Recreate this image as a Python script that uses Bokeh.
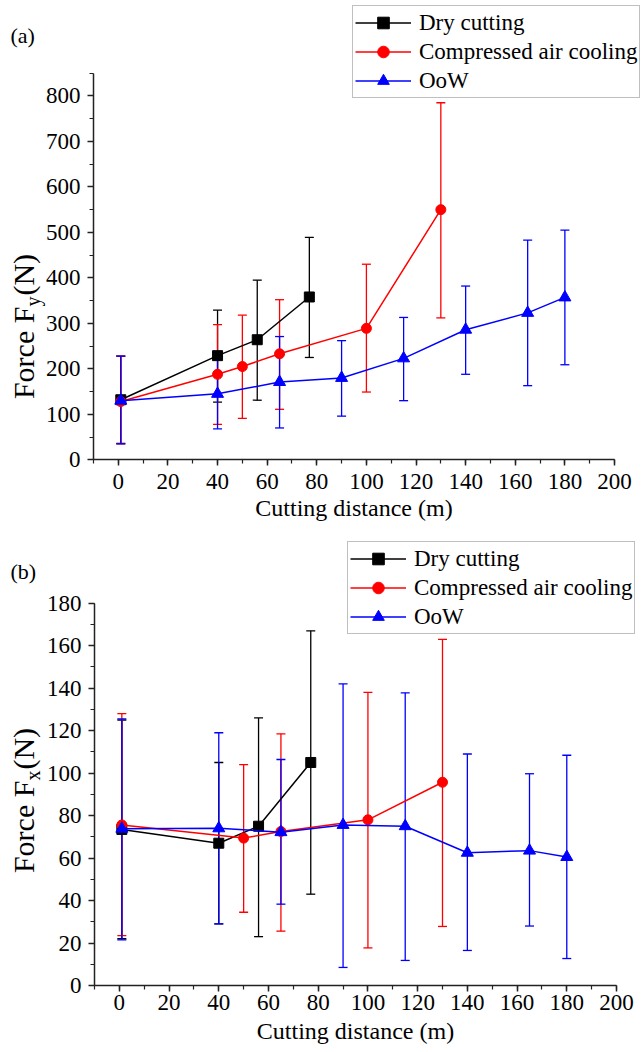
import math
from bokeh.plotting import figure
from bokeh.models import Range1d, FixedTicker, Legend, LegendItem, Label, LinearAxis
from bokeh.layouts import column
from bokeh.embed import file_html
from bokeh.resources import INLINE

# ---------------- data: panel (a) force Fy ----------------
a_dry_x = [1, 40, 56, 77]
a_dry_y = [132, 229, 264, 358]
a_dry_up = [228, 329, 395, 489]
a_dry_lo = [36, 127, 131, 225]

a_air_x = [1, 40, 50, 65, 100, 130]
a_air_y = [128, 188, 205, 233, 289, 550]
a_air_up = [228, 297, 318, 352, 430, 785]
a_air_lo = [35, 78, 91, 111, 149, 312]

a_oow_x = [1, 40, 65, 90, 115, 140, 165, 180]
a_oow_y = [130, 145, 171, 180, 223, 286, 323, 357]
a_oow_up = [228, 225, 271, 262, 313, 382, 483, 505]
a_oow_lo = [35, 68, 70, 96, 130, 188, 163, 209]

# ---------------- data: panel (b) force Fx ----------------
b_dry_x = [1, 40, 56, 77]
b_dry_y = [73.5, 67, 75, 105]
b_dry_up = [125, 105, 126, 167]
b_dry_lo = [22, 29, 23, 43]

b_air_x = [1, 50, 65, 100, 130]
b_air_y = [75.6, 69.4, 72.5, 78, 95.7]
b_air_up = [128, 104, 118.5, 138, 163]
b_air_lo = [23.5, 34.5, 25.6, 17.7, 27.8]

b_oow_x = [1, 40, 65, 90, 115, 140, 165, 180]
b_oow_y = [73.8, 74, 72.2, 75.6, 75, 62.5, 63.5, 60.5]
b_oow_up = [125.5, 119, 106.4, 142, 137.8, 109, 99.7, 108.4]
b_oow_lo = [21.5, 29, 38.3, 8.5, 11.8, 16.5, 28, 12.7]

series_names = ["Dry cutting", "Compressed air cooling", "OoW"]
series_colors = ["#000000", "#FF0000", "#0000FF"]
series_markers = ["square", "circle", "triangle"]
series_sizes = [10, 10, 12]

x_ticks = list(range(0, 201, 20))
x_minor = list(range(-10, 201, 10))
a_y_ticks = list(range(0, 801, 100))
a_y_minor = list(range(0, 851, 50))
b_y_ticks = list(range(0, 181, 20))
b_y_minor = list(range(0, 181, 10))

SERIF = "Liberation Serif"
W = 641
X0, X1 = -10, 200


def style_axis(ax):
    ax.axis_line_color = "#222222"
    ax.axis_line_width = 1.5
    ax.major_tick_line_color = "#222222"
    ax.minor_tick_line_color = "#222222"
    ax.major_tick_line_width = 1.5
    ax.minor_tick_line_width = 1.2
    ax.major_tick_in = 0
    ax.major_tick_out = 6
    ax.minor_tick_in = 0
    ax.minor_tick_out = 4
    ax.major_label_text_font = SERIF
    ax.major_label_text_font_size = "23px"
    ax.major_label_text_color = "black"


def make_panel(height, ax_left, ax_right, ax_top, ax_bottom, ymax, yticks, yminor,
               data, tag, tag_y, sub, legend_lt, ylab_center, ylab_font,
               tick_standoff, xlab_gap):
    # the frame fills the whole canvas; the drawn axes span the given pixels
    xpp = (X1 - X0) / (ax_right - ax_left)
    ypp = ymax / (ax_bottom - ax_top)
    x_start = X0 - ax_left * xpp
    x_end = X1 + (W - ax_right) * xpp
    y_start = -(height - ax_bottom) * ypp
    y_end = ax_bottom * ypp

    def xd(px):
        return x_start + px * xpp

    def yd(py):
        return (ax_bottom - py) * ypp

    p = figure(width=W, height=height, x_range=Range1d(x_start, x_end),
               y_range=Range1d(y_start, y_end), output_backend="svg",
               toolbar_location=None, title=None,
               x_axis_location=None, y_axis_location=None,
               min_border_left=0, min_border_right=0, min_border_top=0,
               min_border_bottom=0)
    p.outline_line_color = None
    p.xgrid.visible = False
    p.ygrid.visible = False
    p.background_fill_color = "white"
    p.border_fill_color = "white"

    xax = LinearAxis(fixed_location=0, bounds=(X0, X1),
                     ticker=FixedTicker(ticks=x_ticks, minor_ticks=x_minor))
    style_axis(xax)
    xax.major_label_standoff = tick_standoff
    p.add_layout(xax, "below")

    yax = LinearAxis(fixed_location=X0, bounds=(0, ymax),
                     ticker=FixedTicker(ticks=yticks, minor_ticks=yminor))
    style_axis(yax)
    yax.major_label_standoff = 7
    p.add_layout(yax, "left")

    # error bars first
    for (xs, ys, up, lo), col in zip(data, series_colors):
        p.segment(x0=xs, y0=lo, x1=xs, y1=up, line_color=col, line_width=1.3)
        p.scatter(x=xs, y=up, marker="dash", size=9, line_color=col, line_width=1.3)
        p.scatter(x=xs, y=lo, marker="dash", size=9, line_color=col, line_width=1.3)

    items = []
    for (xs, ys, up, lo), name, col, mk, sz in zip(data, series_names, series_colors,
                                                   series_markers, series_sizes):
        ln = p.line(x=xs, y=ys, line_color=col, line_width=1.5)
        sc = p.scatter(x=xs, y=ys, marker=mk, size=sz, fill_color=col, line_color=col)
        items.append(LegendItem(label=name, renderers=[ln, sc]))

    row_h = 29
    pad = 2
    leg_h = 3 * row_h + 2 * pad
    leg = Legend(items=items,
                 location=(legend_lt[0], height - legend_lt[1] - leg_h))
    leg.label_text_font = SERIF
    leg.label_text_font_size = "23px"
    leg.label_text_color = "black"
    leg.glyph_width = 56
    leg.glyph_height = row_h
    leg.label_height = row_h
    leg.spacing = 0
    leg.padding = pad
    leg.margin = 0
    leg.label_standoff = 8
    leg.border_line_color = "#808080"
    leg.border_line_width = 1
    leg.background_fill_color = "white"
    leg.background_fill_alpha = 1
    p.add_layout(leg)

    # panel tag
    p.add_layout(Label(x=xd(10), y=yd(tag_y), text=tag, text_font=SERIF,
                       text_font_size="22px", text_align="left",
                       text_baseline="middle", text_color="black"))
    # x axis title
    p.add_layout(Label(x=xd((ax_left + ax_right) / 2), y=yd(ax_bottom + xlab_gap),
                       text="Cutting distance (m)", text_font=SERIF,
                       text_font_size="24px", text_align="center",
                       text_baseline="middle", text_color="black"))
    # y axis title, rotated, with subscript
    f = ylab_font
    fsub = round(f * 0.68)
    total = (3.083 + 1.388) * f + 0.5 * fsub + 1
    start = ylab_center + total / 2          # lower end (pixels)
    xc_px = 23
    p.add_layout(Label(x=xd(xc_px), y=yd(start), text="Force F", angle=math.pi / 2,
                       text_font=SERIF, text_font_size=f"{f}px", text_align="left",
                       text_baseline="middle", text_color="black"))
    s2 = start - 3.083 * f
    p.add_layout(Label(x=xd(xc_px + 0.3 * f), y=yd(s2), text=sub, angle=math.pi / 2,
                       text_font=SERIF, text_font_size=f"{fsub}px", text_align="left",
                       text_baseline="middle", text_color="black"))
    s3 = s2 - 0.5 * fsub - 1
    p.add_layout(Label(x=xd(xc_px), y=yd(s3), text="(N)", angle=math.pi / 2,
                       text_font=SERIF, text_font_size=f"{f}px", text_align="left",
                       text_baseline="middle", text_color="black"))
    return p


pa = make_panel(530, 93, 614, 72.7, 459.3, 850, a_y_ticks, a_y_minor,
                [(a_dry_x, a_dry_y, a_dry_up, a_dry_lo),
                 (a_air_x, a_air_y, a_air_up, a_air_lo),
                 (a_oow_x, a_oow_y, a_oow_up, a_oow_lo)],
                "(a)", 35, "y", (352, 7), 326, 30, 8, 48)

pb = make_panel(522, 94, 616, 72.7, 455, 180, b_y_ticks, b_y_minor,
                [(b_dry_x, b_dry_y, b_dry_up, b_dry_lo),
                 (b_air_x, b_air_y, b_air_up, b_air_lo),
                 (b_oow_x, b_oow_y, b_oow_up, b_oow_lo)],
                "(b)", 41, "x", (347, 13), 270, 30, 3, 45)

layout = column(pa, pb, spacing=0)
open("out.html", "w").write(file_html(layout, INLINE))
